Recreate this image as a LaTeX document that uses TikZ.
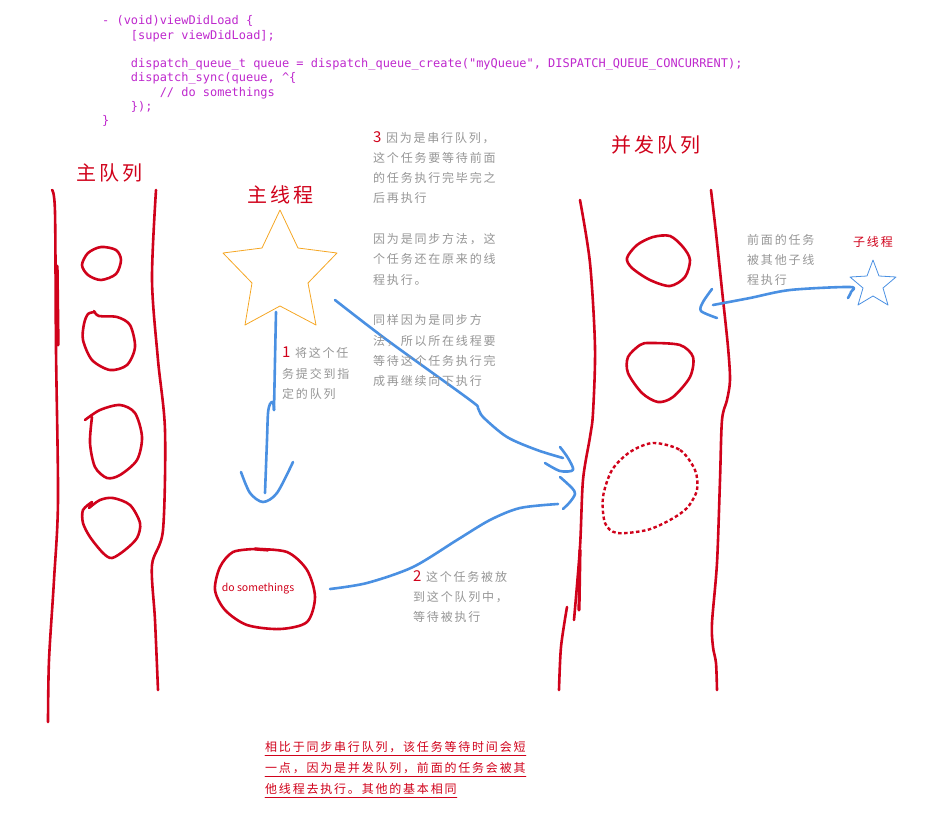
\documentclass[tikz,border=0pt]{standalone}
\usepackage{fontspec}
\newfontfamily\cjk[LetterSpace=15]{Noto Sans CJK SC}
\newfontfamily\cjkplain{Noto Sans CJK SC}
\newfontfamily\codefont{DejaVu Sans Mono}

\definecolor{qred}{RGB}{208,2,27}
\definecolor{qblue}{RGB}{74,144,226}
\definecolor{qorange}{RGB}{245,166,35}
\definecolor{qgray}{RGB}{150,150,150}
\definecolor{qcode}{RGB}{190,40,205}

\newcommand\codeind{\hphantom{xxxx}}
\newcommand\stepno[1]{\textcolor{qred}{\fontsize{15}{20.3}\selectfont #1}\ }

\begin{document}
\begin{tikzpicture}[x=1pt, y=-1pt, line cap=round, line join=round,
    pen/.style={qred, line width=2.6pt},
    ink/.style={qblue, line width=2.6pt},
    title/.style={qred, font=\cjk\fontsize{20}{24}\selectfont, inner sep=0pt, anchor=west},
    note/.style={qgray, font=\cjk\fontsize{12}{20.3}\selectfont, align=left, inner sep=0pt, anchor=north west},
    remark/.style={qred, font=\cjk\fontsize{12}{20}\selectfont, inner xsep=0pt, inner ysep=2.5pt, anchor=west}]
    \useasboundingbox (0,0) rectangle (938,822);

    % the code
    \node[qcode, font=\codefont\fontsize{11.95}{14.3}\selectfont, align=left, inner sep=0pt, anchor=north west] (code) at (102,15.5) {%
      - (void)viewDidLoad \{\\
      \codeind[super viewDidLoad];\\
      \mbox{}\\
      \codeind dispatch\_queue\_t queue = dispatch\_queue\_create("myQueue", DISPATCH\_QUEUE\_CONCURRENT);\\
      \codeind dispatch\_sync(queue, \textasciicircum\{\\
      \codeind\codeind // do somethings\\
      \codeind\});\\
      \}};

    % titles
    \node[title] (mainq) at (76,173) {主队列};
    \node[title] (mainthread) at (247,195) {主线程};
    \node[title] (concq) at (611,145) {并发队列};
    \node[title, font=\cjk\fontsize{12}{14}\selectfont] (child) at (853,242) {子线程};

    % main queue
    \draw[pen] plot[smooth] coordinates {(52,190) (55,212) (56,350) (58,500) (54,580) (49,660) (48,722)};
    \draw[pen, line width=3.4pt] (57,266) -- (58,345);
    \draw[pen] plot[smooth] coordinates {(156,190) (152,280) (158,360) (165,430) (163,530) (152,565) (155,620) (158,690)};

    \draw[pen] plot[smooth cycle] coordinates {(101,247) (116,250) (121,260) (116,274) (101,280) (88,275) (82,265) (88,253)};
    \draw[pen] plot[smooth] coordinates {(95,312) (88,314) (84,324) (83,340) (92,360) (110,370) (127,365) (135,347) (130,325) (117,317) (99,316) (94,311)};
    \draw[pen] plot[smooth] coordinates {(85,420) (100,410) (120,405) (135,413) (142,437) (137,460) (120,475) (107,478) (95,467) (90,443) (92,417)};
    \draw[pen] plot[smooth] coordinates {(89,508) (100,500) (113,498) (130,505) (140,523) (137,538) (125,550) (112,558) (103,553) (90,537) (83,523) (83,510) (92,502)};

    % main thread
    \draw[qorange, line width=0.8pt] (280,210) -- (262,248) -- (223,253) -- (252,283) -- (245,325)
      -- (280,306) -- (316,325) -- (308,283) -- (337,253) -- (298,248) -- cycle;

    % the task
    \draw[pen] plot[smooth] coordinates {(255,549) (287,552) (307,570) (315,597) (307,622) (280,629) (247,625) (225,610) (215,590) (220,567) (233,552) (255,549)};
    \draw[pen, line width=3.2pt] (255,549) -- (268,550);
    \node[qred, font=\cjkplain\fontsize{10.5}{12}\selectfont, inner sep=0pt] (task) at (258,589) {do somethings};

    % concurrent queue
    \draw[pen] plot[smooth] coordinates {(580,200) (590,263) (595,347) (593,413) (590,437) (583,480) (580,547) (574,620)};
    \draw[pen, line width=3.2pt] (580,550) -- (579,610);
    \draw[pen] plot[smooth] coordinates {(567,607) (561,647) (559,690)};
    \draw[pen] plot[smooth] coordinates {(711,190) (716,233) (722,290) (728,347) (730,380) (727,400) (722,420) (720,480) (717,563) (712,623) (713,647) (716,663) (717,690)};

    \draw[pen] plot[smooth cycle] coordinates {(670,236) (683,247) (690,260) (685,277) (670,286) (650,280) (632,268) (627,258) (637,245) (653,237)};
    \draw[pen] plot[smooth cycle] coordinates {(650,343) (680,345) (693,357) (690,377) (673,397) (658,402) (642,393) (628,373) (628,357) (640,345)};
    \draw[pen, line width=2.4pt, line cap=butt, dash pattern=on 3.5pt off 2.5pt] plot[smooth cycle] coordinates {(653,443) (680,450) (695,470) (697,490) (687,508) (670,520) (647,530) (617,533) (605,523) (603,497) (612,470) (630,452)};

    % child thread
    \draw[qblue, line width=0.8pt] (873,260) -- (879,276) -- (896,277) -- (883,288) -- (888,305)
      -- (873,296) -- (858,305) -- (863,288) -- (850,277) -- (867,276) -- cycle;

    % arrows
    \draw[ink] plot[smooth] coordinates {(276,312) (275,360) (274,410)};
    \draw[ink] plot[smooth] coordinates {(274,410) (273,402) (270,404) (268,413) (267,440) (265,493)};
    \draw[ink] plot[smooth] coordinates {(241,472) (250,493) (263,502) (277,493) (293,462)};

    \draw[ink] plot[smooth] coordinates {(335,300) (387,340) (470,400) (478,408) (483,417) (507,437) (537,450) (563,458)};
    \draw[ink] plot[smooth] coordinates {(560,447) (568,458) (573,470) (560,471) (545,463)};

    \draw[ink] plot[smooth] coordinates {(330,589) (367,583) (413,567) (457,540) (490,520) (520,508) (558,504)};
    \draw[ink] plot[smooth] coordinates {(560,477) (572,488) (575,494) (570,502) (563,509)};

    \draw[ink] plot[smooth] coordinates {(713,305) (750,298) (790,290) (850,287) (851,292) (848,298)};
    \draw[ink] plot[smooth] coordinates {(712,289) (703,302) (701,311) (717,318)};

    % notes
    \node[note] (step1) at (282,347) {\stepno{1}将这个任\\务提交到指\\定的队列};
    \node[note] (step2) at (413,570) {\stepno{2}这个任务被放\\到这个队列中，\\等待被执行};
    \node[note] (step3) at (373,131) {\stepno{3}因为是串行队列，\\这个任务要等待前面\\的任务执行完毕完之\\后再执行\\ \mbox{}\\因为是同步方法，这\\个任务还在原来的线\\程执行。\\ \mbox{}\\同样因为是同步方\\法，所以所在线程要\\等待这个任务执行完\\成再继续向下执行};
    \node[note] (other) at (747,234) {前面的任务\\被其他子线\\程执行};

    % summary
    \node[remark] (sum-1) at (265,747) {相比于同步串行队列，该任务等待时间会短};
    \node[remark] (sum-2) at (265,768) {一点，因为是并发队列，前面的任务会被其};
    \node[remark] (sum-3) at (265,789) {他线程去执行。其他的基本相同};
    \draw[qred, line width=0.9pt] (sum-1.south west) -- (sum-1.south east);
    \draw[qred, line width=0.9pt] (sum-2.south west) -- (sum-2.south east);
    \draw[qred, line width=0.9pt] (sum-3.south west) -- (sum-3.south east);
\end{tikzpicture}
\end{document}
